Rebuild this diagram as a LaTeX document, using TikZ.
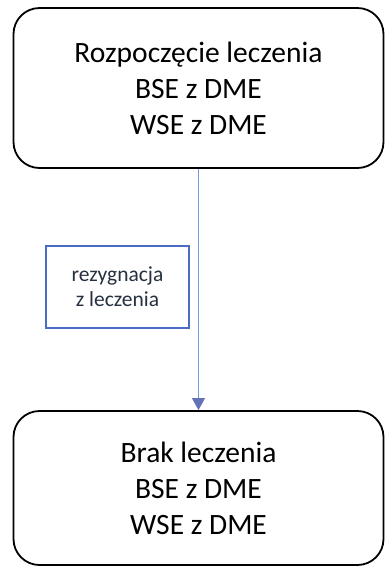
\documentclass[tikz,border=0pt]{standalone}
\usepackage{fontspec}
\setmainfont{Carlito}
\usetikzlibrary{arrows.meta}
\definecolor{boxblue}{HTML}{4A6CC4}
\definecolor{linkblue}{HTML}{6A9FDA}
\definecolor{tipblue}{HTML}{6672B8}
\definecolor{labeltext}{HTML}{263040}
\begin{document}
\begin{tikzpicture}[x=1pt,y=-1pt,
  stagebox/.style={draw=black, line width=1.8pt, rounded corners=26pt,
    align=center, inner sep=0pt,
    font=\fontsize{29.5}{36}\selectfont},
  notebox/.style={draw=boxblue, line width=1.5pt, align=center, inner sep=0pt,
    minimum width=143pt, minimum height=82pt, text=labeltext,
    font=\fontsize{21.5}{25}\selectfont},
  link/.style={draw=linkblue, line width=0.9pt,
    -{Triangle[width=13pt,length=12pt,color=tipblue,fill=tipblue]}}]
  \useasboundingbox (0,0) rectangle (385,566);
  \node[stagebox, minimum width=370pt, minimum height=160pt] (start) at (198.5,88)
    {\raisebox{-3pt}{\parbox{300pt}{\centering Rozpoczęcie leczenia\\BSE z DME\\WSE z DME}}};
  \node[stagebox, minimum width=370pt, minimum height=154pt] (stop) at (198.5,488)
    {\raisebox{-2pt}{\parbox{300pt}{\centering Brak leczenia\\BSE z DME\\WSE z DME}}};
  \node[notebox] (quit) at (117.5,287) {rezygnacja\\z leczenia};
  \draw[link] (start.south) -- (stop.north);
\end{tikzpicture}
\end{document}
